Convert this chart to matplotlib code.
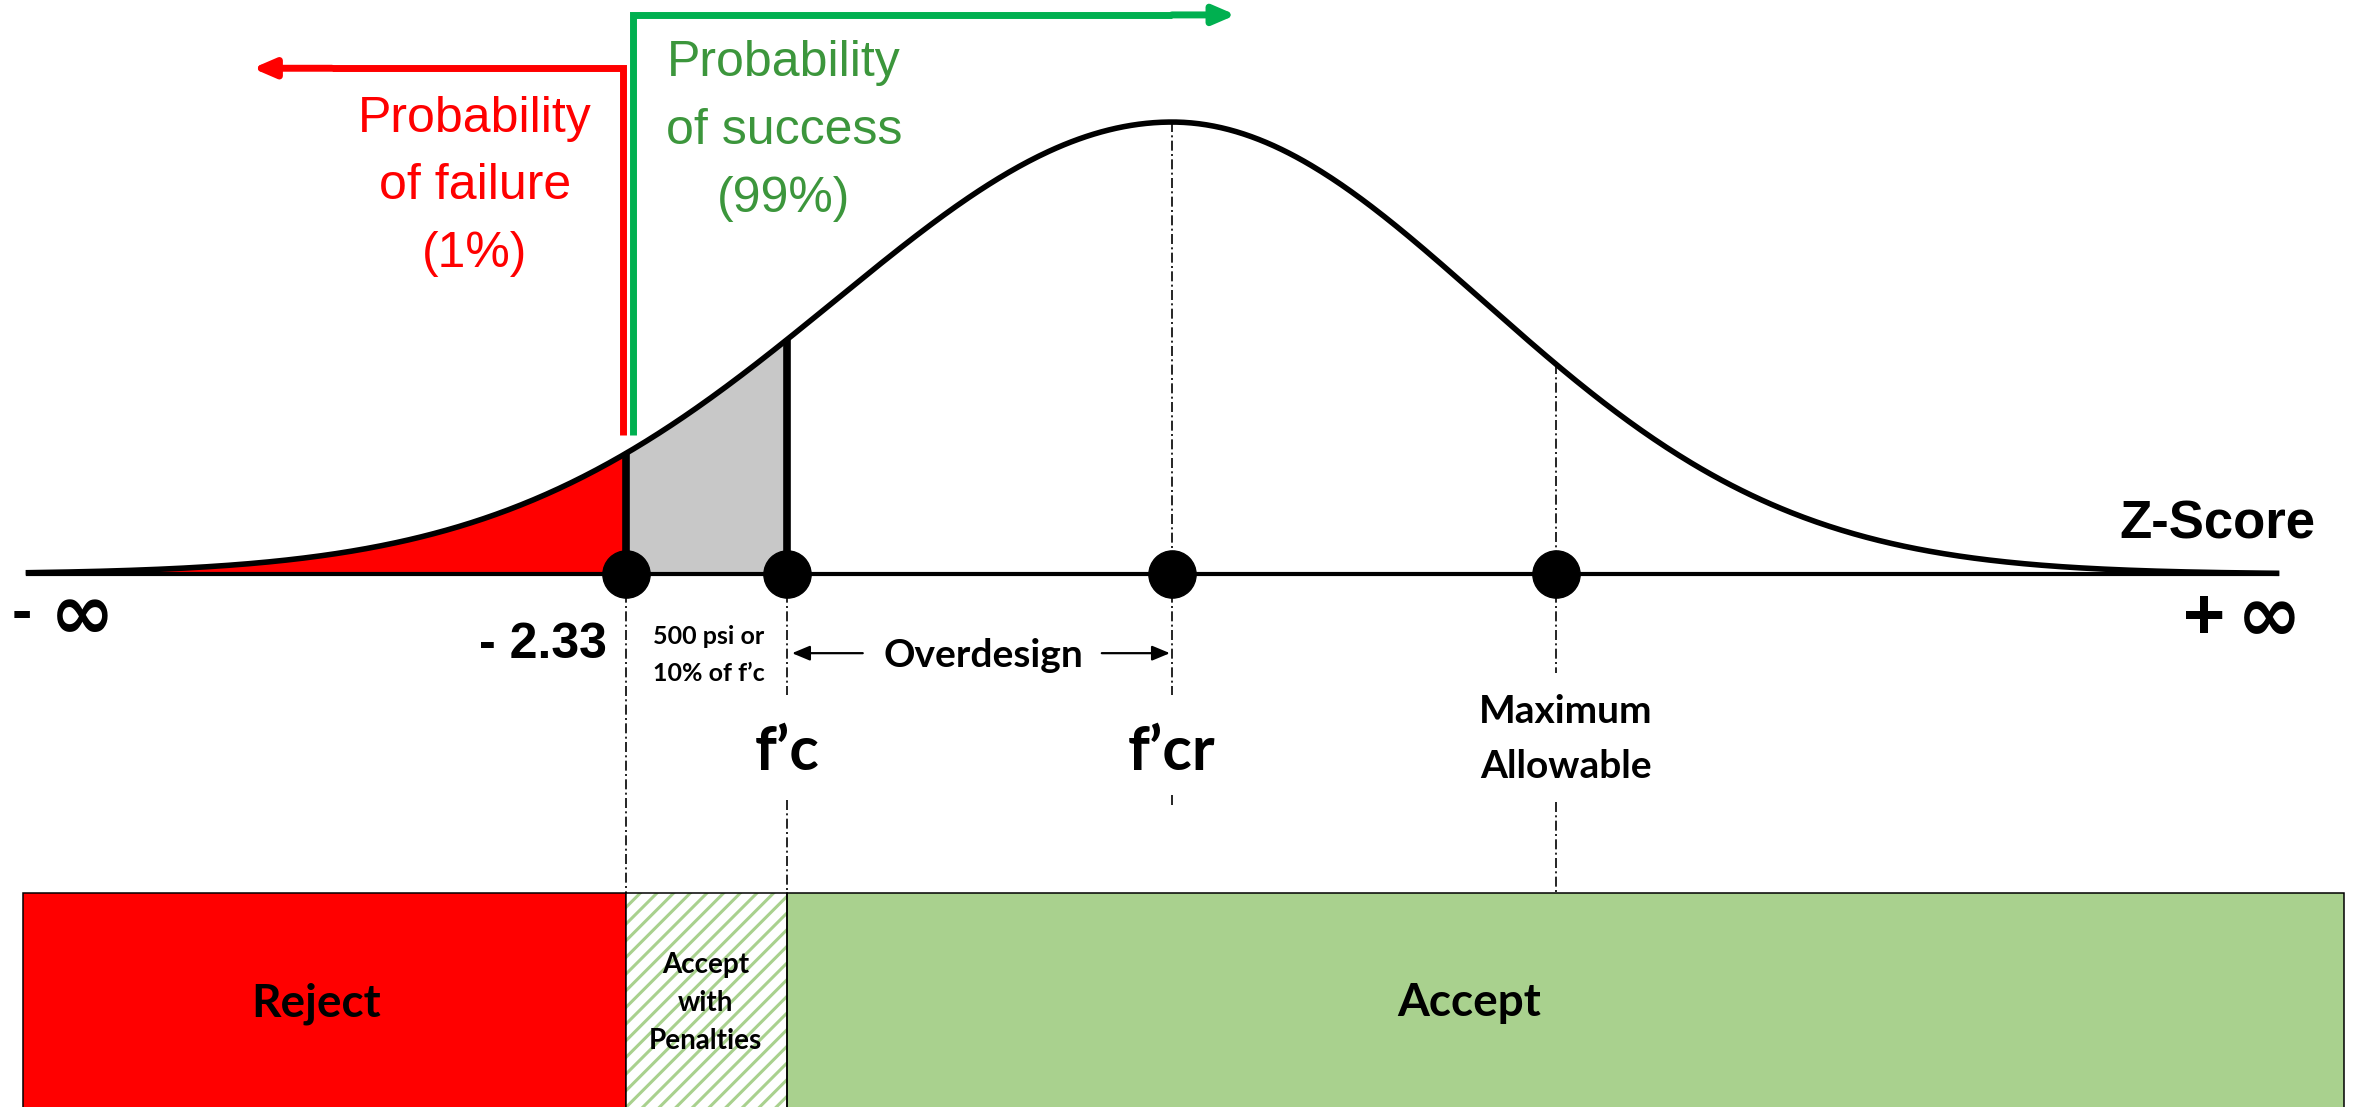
"""
Concrete strength acceptance diagram (normal curve, Z-score bands)
"""
import numpy as np
import matplotlib
matplotlib.use('Agg')
import matplotlib.pyplot as plt
from matplotlib.patches import Rectangle

plt.rcParams['font.family'] = ['Lato', 'DejaVu Sans']
plt.rcParams['hatch.linewidth'] = 2.2

# ---- data (x in drawn std-dev units, f'cr at 0) ----
mark_z = [-1.69, -1.19, 0.0, 1.19]
mark_labels = ['- 2.33', 'f’c', 'f’cr', 'Maximum\nAllowable']
sigma_left = 1.04
sigma_right = 0.96
axis_span = [-3.54, 3.42]

zone_edges = [-3.557, -1.69, -1.19, 3.628]
zone_labels = ['Reject', 'Accept\nwith\nPenalties', 'Accept']
zone_colors = ['#ff0000', 'white', '#a9d18e']

fail_text = 'Probability\nof failure\n(1%)'
success_text = 'Probability\nof success\n(99%)'

RED = '#ff0000'
GREEN_ARROW = '#00b050'
GREEN_TEXT = '#3c963c'
ARIAL = ['Liberation Sans', 'DejaVu Sans']


def bell(z):
    s = np.where(np.asarray(z) < 0, sigma_left, sigma_right)
    return np.exp(-0.5 * (np.asarray(z) / s) ** 2)


fig = plt.figure(figsize=(23.57, 11.07), dpi=100)
ax = fig.add_axes([0, 0, 1, 1])
ax.set_xlim(-3.628, 3.669)
ax.set_ylim(-1.179, 1.270)
ax.axis('off')

# shaded areas under the curve
zr = np.linspace(axis_span[0], mark_z[0], 300)
ax.fill_between(zr, bell(zr), color=RED, lw=0, zorder=1)
zg = np.linspace(mark_z[0], mark_z[1], 100)
ax.fill_between(zg, bell(zg), color='#c8c8c8', lw=0, zorder=1)

# bell curve + baseline
z = np.linspace(axis_span[0], axis_span[1], 900)
ax.plot(z, bell(z), color='black', lw=4, zorder=3)
ax.plot(axis_span, [0, 0], color='black', lw=3, zorder=4)

# thick verticals at -2.33 and f'c
for mz in mark_z[:2]:
    ax.plot([mz, mz], [0, bell(mz)], color='black', lw=5.5, zorder=4,
            solid_capstyle='butt')

# dash-dot guide lines (gaps left for labels)
dd = (0, (6, 2, 1.2, 2))
guides = [
    [(0, -0.706)],
    [(0, -0.268), (-0.50, -0.706)],
    [(float(bell(mark_z[2])), 0), (0, -0.268), (-0.489, -0.51)],
    [(float(bell(mark_z[3])), 0), (0, -0.219), (-0.504, -0.706)],
]
for mz, segs in zip(mark_z, guides):
    for y0, y1 in segs:
        ax.plot([mz, mz], [y0, y1], color='black', lw=1.2, linestyle=dd, zorder=2)

ax.plot(mark_z, [0] * len(mark_z), 'o', ms=34, color='black', zorder=5)

# probability arrows
xr, yr = -1.700, 1.119
ax.plot([xr, xr, -2.6], [0.308, yr, yr], color=RED, lw=5,
        solid_joinstyle='miter', solid_capstyle='butt', zorder=3)
ax.annotate('', xy=(-2.846, yr), xytext=(-2.6, yr),
            arrowprops=dict(arrowstyle='-|>,head_length=0.65,head_width=0.28',
                            color=RED, lw=5, mutation_scale=20, shrinkA=0, shrinkB=0))
xg, yg = -1.669, 1.237
ax.plot([xg, xg, 0.0], [0.308, yg, yg], color=GREEN_ARROW, lw=5,
        solid_joinstyle='miter', solid_capstyle='butt', zorder=3)
ax.annotate('', xy=(0.198, yg), xytext=(0.0, yg),
            arrowprops=dict(arrowstyle='-|>,head_length=0.65,head_width=0.28',
                            color=GREEN_ARROW, lw=5, mutation_scale=20, shrinkA=0, shrinkB=0))

ax.text(-2.158, 0.858, fail_text, color=RED, fontsize=36, family=ARIAL,
        ha='center', va='center', multialignment='center', linespacing=1.6)
ax.text(-1.201, 0.980, success_text, color=GREEN_TEXT, fontsize=36, family=ARIAL,
        ha='center', va='center', multialignment='center', linespacing=1.6)

# axis ends: sign and infinity glyph set separately so the glyph can be large
ax.text(-3.560, -0.090, '-', fontsize=44, fontweight='bold', family=ARIAL,
        ha='center', va='center')
ax.text(-3.372, -0.095, '∞', fontsize=56, fontweight='bold', family='DejaVu Sans',
        ha='center', va='center')
ax.text(3.195, -0.102, '+', fontsize=52, fontweight='bold', family=ARIAL,
        ha='center', va='center')
ax.text(3.396, -0.100, '∞', fontsize=56, fontweight='bold', family='DejaVu Sans',
        ha='center', va='center')
ax.text(3.236, 0.110, 'Z-Score', fontsize=38, fontweight='bold', family=ARIAL,
        ha='center', va='center')

ax.text(mark_z[0] - 0.059, -0.157, mark_labels[0], fontsize=36, fontweight='bold',
        family=ARIAL, ha='right', va='center')
ax.text(mark_z[1], -0.434, mark_labels[1], fontsize=44, fontweight='bold',
        ha='center', va='baseline')
ax.text(mark_z[2], -0.434, mark_labels[2], fontsize=44, fontweight='bold',
        ha='center', va='baseline')
ax.text(mark_z[3] + 0.03, -0.365, mark_labels[3], fontsize=28, fontweight='bold',
        ha='center', va='center', multialignment='center', linespacing=1.69)

ax.text(-1.433, -0.179, '500 psi or\n10% of f’c', fontsize=18, fontweight='bold',
        ha='center', va='center', multialignment='center', linespacing=1.7)

# overdesign span
ax.text(-0.585, -0.206, 'Overdesign', fontsize=28, fontweight='bold',
        ha='center', va='baseline')
for tip, tail in [(-1.176, -0.957), (-0.006, -0.217)]:
    ax.annotate('', xy=(tip, -0.175), xytext=(tail, -0.175),
                arrowprops=dict(arrowstyle='-|>,head_length=0.6,head_width=0.25',
                                color='black', lw=1.6, mutation_scale=18,
                                shrinkA=0, shrinkB=0))

# acceptance bands
band_top, band_bot = -0.706, -1.35
label_x = [-2.65, -1.443, 0.920]
for i, (x0, x1, lab, col) in enumerate(zip(zone_edges[:-1], zone_edges[1:],
                                             zone_labels, zone_colors)):
    if i == 1:
        ax.add_patch(Rectangle((x0, band_bot), x1 - x0, band_top - band_bot,
                               facecolor='white', edgecolor='#a9d18e', lw=0,
                               hatch='//', zorder=1))
        ax.add_patch(Rectangle((x0, band_bot), x1 - x0, band_top - band_bot,
                               fill=False, edgecolor='black', lw=1.1, zorder=2))
        ax.text(label_x[i], -0.949, lab, fontsize=20, fontweight='bold',
                ha='center', va='center', multialignment='center', linespacing=1.55)
    else:
        ax.add_patch(Rectangle((x0, band_bot), x1 - x0, band_top - band_bot,
                               facecolor=col, edgecolor='black', lw=1.1, zorder=1))
        ax.text(label_x[i], -0.978, lab, fontsize=33, fontweight='bold',
                ha='center', va='baseline')

plt.savefig('out.png', dpi=100, facecolor='white')
